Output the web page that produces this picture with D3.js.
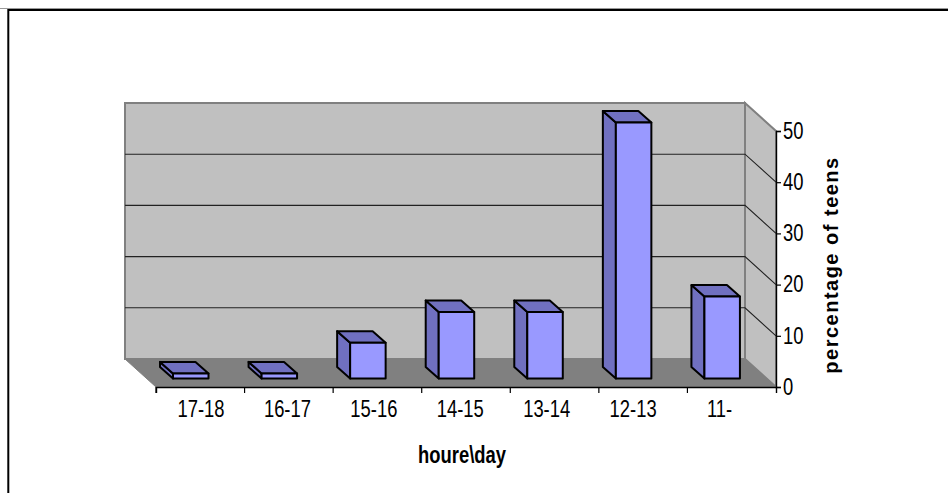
<!DOCTYPE html>
<html>
<head>
<meta charset="utf-8">
<script src="https://cdn.jsdelivr.net/npm/d3@7/dist/d3.min.js"></script>
<style>
html,body{margin:0;padding:0;background:#fff}
svg{display:block}
text{font-family:"Liberation Sans",Arial,sans-serif;fill:#000}
</style>
</head>
<body>
<svg id="chart" width="948" height="493"></svg>
<script>
// Hours of the day and share of teens in each
const categories = ["17-18","16-17","15-16","14-15","13-14","12-13","11-"];
const values = [1,1,7,13,13,50,16];
const yTicks = [0,10,20,30,40,50];

const svg = d3.select("#chart");

// Front plane of the 3D box
const x = d3.scaleBand().domain(categories).range([156,776]);
const y = d3.scaleLinear().domain([0,50]).range([387,131]);
// Category labels sit on a slightly tighter spacing than the bars
const labelX = d3.scalePoint().domain(categories).range([201,719.5]);

// Projection offsets: box depth and bar depth
const depth = {dx:-31, dy:-28};
const barDepth = {dx:-13, dy:-11.5};
const barOffset = 17, barWidth = 35.5, barFloor = 8.5;
// All text is condensed horizontally
const squeeze = 0.8;

const path = pts => d3.line()(pts) + "Z";

// Chart frame: left and top edges only
svg.append("line").attr("x1",0).attr("x2",948).attr("y1",8.5).attr("y2",8.5)
  .attr("stroke","#999").attr("stroke-width",1);
svg.append("path").attr("d","M8.3,493V10H948")
  .attr("fill","none").attr("stroke","#000").attr("stroke-width",2);

// Back wall
const xl = x.range()[0], xr = x.range()[1];
const y0 = y(0), yTop = y(50);
svg.append("path")
  .attr("d",path([[xl+depth.dx,yTop+depth.dy],[xr+depth.dx,yTop+depth.dy],[xr+depth.dx,y0+depth.dy],[xl+depth.dx,y0+depth.dy]]))
  .attr("fill","#c0c0c0").attr("stroke","#808080").attr("stroke-width",2);
// Side wall
svg.append("path")
  .attr("d",path([[xr+depth.dx,yTop+depth.dy],[xr,yTop],[xr,y0],[xr+depth.dx,y0+depth.dy]]))
  .attr("fill","#c0c0c0").attr("stroke","#808080").attr("stroke-width",2);
// Floor
svg.append("path")
  .attr("d",path([[xl+depth.dx,y0+depth.dy],[xr+depth.dx,y0+depth.dy],[xr,y0],[xl,y0]]))
  .attr("fill","#808080").attr("stroke","#808080").attr("stroke-width",1);

// Gridlines along back and side walls
svg.append("g").selectAll("path").data(yTicks.filter(d=>d>0 && d<50)).join("path")
  .attr("d",d=>d3.line()([[xl+depth.dx,y(d)+depth.dy],[xr+depth.dx,y(d)+depth.dy],[xr,y(d)]]))
  .attr("fill","none").attr("stroke","#222").attr("stroke-width",1.1);

// Value axis on the right
const yAxis = svg.append("g").attr("transform",`translate(${xr},0)`)
  .call(d3.axisRight(y).tickValues(yTicks).tickSize(5).tickPadding(2));
yAxis.select(".domain").attr("stroke","#000").attr("stroke-width",1.4);
yAxis.selectAll(".tick line").attr("stroke","#000").attr("stroke-width",1.2);
yAxis.selectAll("text").attr("font-size",23).attr("x",0)
  .attr("transform",`translate(7,0) scale(${squeeze},1)`);

// Category axis along the floor front
const xAxis = svg.append("g").attr("transform",`translate(0,${y0})`)
  .call(d3.axisBottom(x).tickSize(6).tickPadding(8).tickSizeOuter(6));
xAxis.select(".domain").attr("stroke","#000").attr("stroke-width",1.4);
xAxis.selectAll(".tick line")
  .attr("x1",-x.bandwidth()/2).attr("x2",-x.bandwidth()/2)
  .attr("stroke","#000").attr("stroke-width",1.2);
xAxis.selectAll("text").attr("font-size",23)
  .attr("transform",d=>`translate(${labelX(d)-(x(d)+x.bandwidth()/2)},0) scale(${squeeze},1)`);

// Bars: side, top and front faces
const bars = svg.append("g").selectAll("g").data(categories.map((c,i)=>({c,v:values[i]}))).join("g");
const bx = d => x(d.c)+barOffset;
const bBot = y0-barFloor;
const bTop = d => bBot-(y(0)-y(d.v));
const faceStroke = f => f.attr("stroke","#000").attr("stroke-width",2).attr("stroke-linejoin","round");
bars.append("path").call(faceStroke).attr("fill","#7070c0")
  .attr("d",d=>path([[bx(d),bTop(d)],[bx(d)+barDepth.dx,bTop(d)+barDepth.dy],[bx(d)+barDepth.dx,bBot+barDepth.dy],[bx(d),bBot]]));
bars.append("path").call(faceStroke).attr("fill","#7070c0")
  .attr("d",d=>path([[bx(d),bTop(d)],[bx(d)+barDepth.dx,bTop(d)+barDepth.dy],[bx(d)+barWidth+barDepth.dx,bTop(d)+barDepth.dy],[bx(d)+barWidth,bTop(d)]]));
bars.append("path").call(faceStroke).attr("fill","#9999ff")
  .attr("d",d=>path([[bx(d),bTop(d)],[bx(d)+barWidth,bTop(d)],[bx(d)+barWidth,bBot],[bx(d),bBot]]));

// Axis titles
svg.append("text").attr("transform",`translate(462,463) scale(${squeeze},1)`)
  .attr("text-anchor","middle").attr("font-size",23).attr("font-weight","bold").text("houre\\day");
svg.append("text").attr("transform","translate(838,265) rotate(-90) scale(1,1.05)")
  .attr("text-anchor","middle").attr("font-size",20).attr("letter-spacing",1.5)
  .attr("font-weight","bold").text("percentage of teens");
</script>
</body>
</html>
